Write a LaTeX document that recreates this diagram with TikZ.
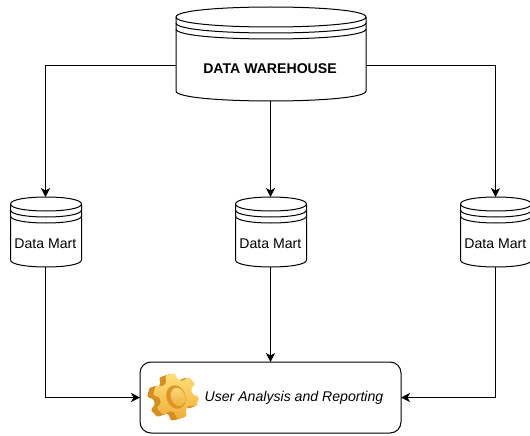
\documentclass[tikz,border=0pt]{standalone}
\usepackage{fontspec}
\setmainfont{Liberation Sans}
\usetikzlibrary{arrows.meta,calc}
\definecolor{gearside}{HTML}{D48E24}
\definecolor{geartop}{HTML}{FFE07A}
\definecolor{gearbot}{HTML}{EFAE38}
\definecolor{holeouter}{HTML}{DD9528}
\definecolor{holeinner}{HTML}{FBD97C}
\tikzset{
  ln/.style={line width=1pt,draw=black},
  conn/.style={ln,-{Stealth[length=9pt,width=9pt,inset=2.5pt]}},
  shapebox/.style={rectangle,inner sep=0pt,outer sep=0pt},
  lbl/.style={inner sep=0pt,font=\fontsize{14.1}{16}\selectfont},
}
% x0 x1 ytop ybot ry offset1 offset2
\newcommand{\dbcyl}[7]{%
  \pgfmathsetmacro{\ya}{#3+#5}%
  \pgfmathsetmacro{\yb}{#4-#5}%
  \pgfmathsetmacro{\ctop}{#3-#5/3}%
  \pgfmathsetmacro{\cfront}{\ya+#5*4/3}%
  \pgfmathsetmacro{\cbot}{\yb+#5*4/3}%
  \draw[ln,fill=white,line join=round] (#1,\ya) .. controls (#1,\ctop) and (#2,\ctop) .. (#2,\ya)
     -- (#2,\yb) .. controls (#2,\cbot) and (#1,\cbot) .. (#1,\yb) -- cycle;
  \draw[ln] (#1,\ya) .. controls (#1,\cfront) and (#2,\cfront) .. (#2,\ya);
  \draw[ln] (#1,\ya+#6) .. controls (#1,\cfront+#6) and (#2,\cfront+#6) .. (#2,\ya+#6);
  \draw[ln] (#1,\ya+#7) .. controls (#1,\cfront+#7) and (#2,\cfront+#7) .. (#2,\ya+#7);
}
\newcommand{\gearoutline}{%
  (-5:16.5) \foreach \a in {15,75,135,195,255,315}{ -- (\a-20:16.5) -- (\a-13:23) -- (\a+13:23) -- (\a+20:16.5)} -- cycle
}
\begin{document}
\begin{tikzpicture}[x=1pt,y=-1pt]
\useasboundingbox (0,0) rectangle (530,436);
% shapes
\dbcyl{176}{366}{7}{101}{10}{6}{12}
\dbcyl{10.5}{81.5}{197}{267}{7}{6}{12}
\dbcyl{235.5}{306.5}{197}{267}{7}{6}{12}
\dbcyl{460.5}{531.5}{197}{267}{7}{6}{12}
\node[shapebox,minimum width=190pt,minimum height=94pt] (dw) at (270.5,54) {};
\node[shapebox,minimum width=71pt,minimum height=70pt] (dm1) at (45.5,232) {};
\node[shapebox,minimum width=71pt,minimum height=70pt] (dm2) at (270.5,232) {};
\node[shapebox,minimum width=71pt,minimum height=70pt] (dm3) at (495.5,232) {};
\node[shapebox,draw=black,line width=1pt,rounded corners=11pt,minimum width=261pt,minimum height=71pt] (box) at (270.5,397.5) {};
% labels
\node[lbl,font=\fontsize{14.1}{16}\selectfont\bfseries] (dwt) at (270,69) {DATA WAREHOUSE};
\node[lbl] (t1) at (45.3,243.5) {Data Mart};
\node[lbl] (t2) at (270.3,243.5) {Data Mart};
\node[lbl] (t3) at (495.3,243.5) {Data Mart};
\node[lbl,font=\fontsize{14.1}{16}\selectfont\itshape] (t4) at (294,397.5) {User Analysis and Reporting};
% gear
\begin{scope}[rounded corners=1.5pt]
  \foreach \d in {6,5,4,3,2,1}{
    \fill[gearside,shift={(176-\d,396+\d*0.3)}] \gearoutline;
  }
  \shade[top color=geartop,bottom color=gearbot,shift={(176,396)}] \gearoutline;
\end{scope}
\fill[holeouter,rotate around={20:(176,397)}] (176,397) ellipse (9.5pt and 12pt);
\shade[top color=holeinner,bottom color=gearbot,rotate around={20:(178,397)}] (178,397) ellipse (7pt and 9.5pt);
% connectors
\coordinate (dwL) at ($(dw.west)+(0,11.5)$);
\coordinate (dwR) at ($(dw.east)+(0,11.5)$);
\draw[conn] (dwL) -| (dm1.north);
\draw[conn] (dwR) -| (dm3.north);
\draw[conn] (dw.south) -- (dm2.north);
\draw[conn] (dm2.south) -- (box.north);
\draw[conn] (dm1.south) |- (box.west);
\draw[conn] (dm3.south) |- (box.east);
\end{tikzpicture}
\end{document}
